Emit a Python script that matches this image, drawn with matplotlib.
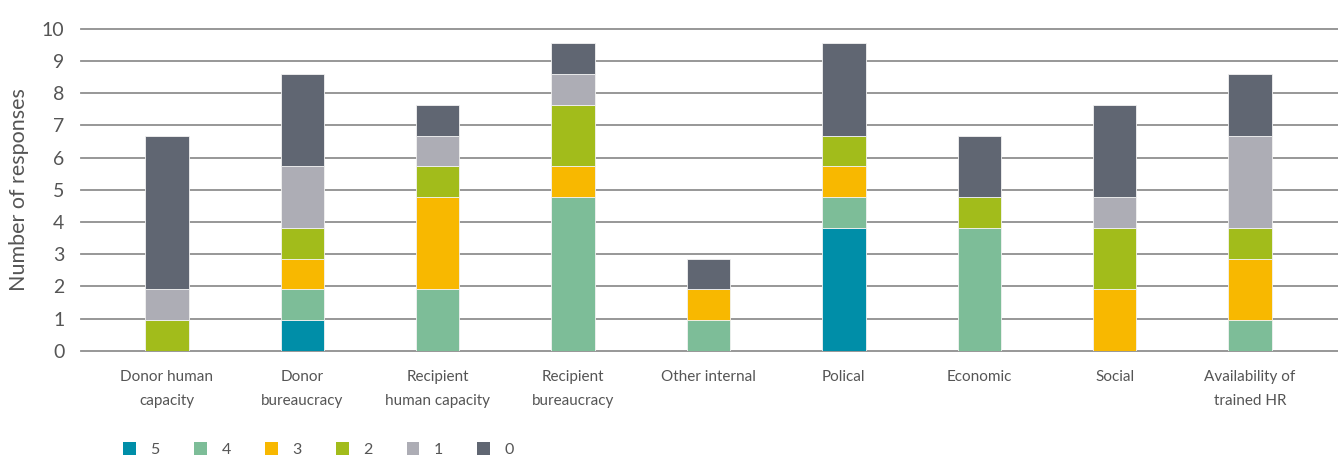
import numpy as np
import matplotlib
matplotlib.use("Agg")
from matplotlib import pyplot as plt
from matplotlib.patches import Patch

categories = ["Donor human\ncapacity", "Donor\nbureaucracy", "Recipient\nhuman capacity",
              "Recipient\nbureaucracy", "Other internal", "Polical", "Economic",
              "Social", "Availability of\ntrained HR"]

# responses per score, one list per score level
score_5 = [0, 1, 0, 0, 0, 4, 0, 0, 0]
score_4 = [0, 1, 2, 5, 1, 1, 4, 0, 1]
score_3 = [0, 1, 3, 1, 1, 1, 0, 2, 2]
score_2 = [1, 1, 1, 2, 0, 1, 1, 2, 1]
score_1 = [1, 2, 1, 1, 0, 0, 0, 1, 3]
score_0 = [5, 3, 1, 1, 1, 3, 2, 3, 2]

series = [("5", score_5), ("4", score_4), ("3", score_3),
          ("2", score_2), ("1", score_1), ("0", score_0)]
colors = ["#008ea8", "#7dbd98", "#f8b800", "#a2bc1b", "#adadb5", "#606672"]

y_ticks = list(range(0, 11))
tick_scale = 1.048  # the gridlines sit a little wider apart than one response

plt.rcParams['font.family'] = ['Lato', 'DejaVu Sans']
text_col = "#555555"

fig = plt.figure(figsize=(13.38, 4.57), dpi=100)
ax = fig.add_axes([0.0605, 0.232, 0.9395, 0.7055])

x = np.arange(len(categories))
bottom = np.zeros(len(categories))
for (name, vals), col in zip(series, colors):
    vals = np.array(vals, dtype=float)
    ax.bar(x, vals, width=0.32, bottom=bottom, color=col,
           edgecolor="#f2f2f2", linewidth=0.6, zorder=3)
    bottom += vals

ax.set_xlim(-0.635, 8.65)
ax.set_ylim(0, 10 * tick_scale)
ax.set_yticks([t * tick_scale for t in y_ticks])
ax.set_yticklabels([str(t) for t in y_ticks], fontsize=14, color=text_col)
ax.set_xticks(x)
ax.set_xticklabels(categories, fontsize=11, color=text_col, linespacing=1.85)
ax.tick_params(axis="both", length=0)
ax.tick_params(axis="y", pad=12)
ax.tick_params(axis="x", pad=14)
for s in ax.spines.values():
    s.set_visible(False)
ax.yaxis.grid(True, color="#8f8f8f", linewidth=1.3, zorder=0)
for gl in ax.get_ygridlines():
    gl.set_clip_on(False)
ax.set_axisbelow(True)
ax.set_ylabel("Number of responses", fontsize=15.5, color=text_col, labelpad=9)

handles = [Patch(facecolor=c, edgecolor="none") for c in colors]
fig.legend(handles, [n for n, _ in series], loc="center left",
           bbox_to_anchor=(0.0815, 0.016), ncol=6, frameon=False,
           fontsize=11.5, labelcolor=text_col, handlelength=0.8, handleheight=0.8,
           handletextpad=0.9, columnspacing=2.15)

fig.savefig("out.png", dpi=100)
plt.close(fig)
